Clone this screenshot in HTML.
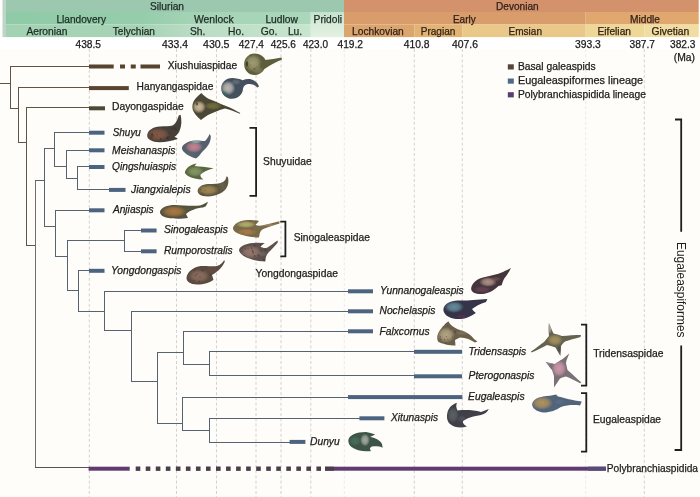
<!DOCTYPE html>
<html><head><meta charset="utf-8"><style>
html,body{margin:0;padding:0;background:#fdfcf9;}
svg{display:block;filter:blur(0.3px);font-family:"Liberation Sans", sans-serif;}
</style></head><body>
<svg width="700" height="497" viewBox="0 0 700 497">
<rect x="0" y="0" width="700" height="497" fill="#fefdf9"/>
<g><defs><linearGradient id="sr2" x1="0" x2="1" y1="0" y2="0"><stop offset="0" stop-color="#8fcaa7"/><stop offset="0.45" stop-color="#95cdab"/><stop offset="0.6" stop-color="#a3d3b4"/><stop offset="1" stop-color="#abd7bb"/></linearGradient><linearGradient id="sr3" x1="0" x2="1" y1="0" y2="0"><stop offset="0" stop-color="#a3d2b3"/><stop offset="0.45" stop-color="#a6d3b5"/><stop offset="0.6" stop-color="#b8dcc3"/><stop offset="1" stop-color="#c8e5ce"/></linearGradient></defs><rect x="2.5" y="0" width="3.5" height="37.3" fill="#bdd5c7"/><rect x="6" y="0" width="338" height="12" fill="#9bc8af"/><rect x="6" y="12" width="304.8" height="12.5" fill="url(#sr2)"/><rect x="6" y="24.5" width="304.8" height="12.799999999999997" fill="url(#sr3)"/><defs><linearGradient id="prd" x1="0" x2="0" y1="0" y2="1"><stop offset="0" stop-color="#c4e2cc"/><stop offset="0.5" stop-color="#d8ecda"/><stop offset="1" stop-color="#e2f1e3"/></linearGradient></defs><rect x="310.8" y="12" width="33.19999999999999" height="25.299999999999997" fill="url(#prd)"/><rect x="344" y="0" width="354.70000000000005" height="12" fill="#d4926c"/><rect x="344" y="12" width="241.70000000000005" height="12.5" fill="#d99c6b"/><rect x="585.7" y="12" width="113.0" height="12.5" fill="#e0a86f"/><rect x="344" y="24.5" width="70.30000000000001" height="12.799999999999997" fill="#dca56e"/><rect x="414.3" y="24.5" width="48.0" height="12.799999999999997" fill="#e3b373"/><rect x="462.3" y="24.5" width="123.40000000000003" height="12.799999999999997" fill="#e9c88a"/><rect x="585.7" y="24.5" width="58.59999999999991" height="12.799999999999997" fill="#efd798"/><rect x="644.3" y="24.5" width="54.40000000000009" height="12.799999999999997" fill="#f1dda2"/><rect x="0" y="37.3" width="700" height="11.700000000000003" fill="#ffffff"/></g>
<g><text x="150" y="9.9" font-size="10.3" textLength="34" lengthAdjust="spacingAndGlyphs" fill="#1f2a24" stroke="#1f2a24" stroke-width="0.25">Silurian</text><text x="496" y="9.9" font-size="10.3" textLength="42.6" lengthAdjust="spacingAndGlyphs" fill="#30221a" stroke="#30221a" stroke-width="0.25">Devonian</text><text x="56.4" y="22.6" font-size="10.3" textLength="49.6" lengthAdjust="spacingAndGlyphs" fill="#1f2a24" stroke="#1f2a24" stroke-width="0.25">Llandovery</text><text x="194" y="22.6" font-size="10.3" textLength="39.6" lengthAdjust="spacingAndGlyphs" fill="#1f2a24" stroke="#1f2a24" stroke-width="0.25">Wenlock</text><text x="265.4" y="22.6" font-size="10.3" textLength="32.5" lengthAdjust="spacingAndGlyphs" fill="#1f2a24" stroke="#1f2a24" stroke-width="0.25">Ludlow</text><text x="313.6" y="22.6" font-size="10.3" textLength="28.4" lengthAdjust="spacingAndGlyphs" fill="#1f2a24" stroke="#1f2a24" stroke-width="0.25">Pridoli</text><text x="452.9" y="22.6" font-size="10.3" textLength="22.8" lengthAdjust="spacingAndGlyphs" fill="#30221a" stroke="#30221a" stroke-width="0.25">Early</text><text x="630" y="22.6" font-size="10.3" textLength="30" lengthAdjust="spacingAndGlyphs" fill="#30221a" stroke="#30221a" stroke-width="0.25">Middle</text><text x="26.4" y="34.8" font-size="10.3" textLength="41.1" lengthAdjust="spacingAndGlyphs" fill="#1f2a24" stroke="#1f2a24" stroke-width="0.25">Aeronian</text><text x="112.8" y="34.8" font-size="10.3" textLength="42.2" lengthAdjust="spacingAndGlyphs" fill="#1f2a24" stroke="#1f2a24" stroke-width="0.25">Telychian</text><text x="190" y="34.8" font-size="10.3" fill="#1f2a24" stroke="#1f2a24" stroke-width="0.25">Sh.</text><text x="228" y="34.8" font-size="10.3" fill="#1f2a24" stroke="#1f2a24" stroke-width="0.25">Ho.</text><text x="260.7" y="34.8" font-size="10.3" fill="#1f2a24" stroke="#1f2a24" stroke-width="0.25">Go.</text><text x="287.9" y="34.8" font-size="10.3" fill="#1f2a24" stroke="#1f2a24" stroke-width="0.25">Lu.</text><text x="352" y="34.8" font-size="10.3" textLength="51.8" lengthAdjust="spacingAndGlyphs" fill="#30221a" stroke="#30221a" stroke-width="0.25">Lochkovian</text><text x="420.7" y="34.8" font-size="10.3" textLength="34.7" lengthAdjust="spacingAndGlyphs" fill="#30221a" stroke="#30221a" stroke-width="0.25">Pragian</text><text x="508.6" y="34.8" font-size="10.3" textLength="33.4" lengthAdjust="spacingAndGlyphs" fill="#30221a" stroke="#30221a" stroke-width="0.25">Emsian</text><text x="597.5" y="34.8" font-size="10.3" textLength="33.5" lengthAdjust="spacingAndGlyphs" fill="#30221a" stroke="#30221a" stroke-width="0.25">Eifelian</text><text x="651.4" y="34.8" font-size="10.3" textLength="37.9" lengthAdjust="spacingAndGlyphs" fill="#30221a" stroke="#30221a" stroke-width="0.25">Givetian</text></g>
<g><text x="75.5" y="47.6" font-size="10.3" textLength="25.5" lengthAdjust="spacingAndGlyphs" fill="#1a1a1a" stroke="#1a1a1a" stroke-width="0.25">438.5</text><text x="162" y="47.6" font-size="10.3" textLength="26" lengthAdjust="spacingAndGlyphs" fill="#1a1a1a" stroke="#1a1a1a" stroke-width="0.25">433.4</text><text x="203" y="47.6" font-size="10.3" textLength="26.5" lengthAdjust="spacingAndGlyphs" fill="#1a1a1a" stroke="#1a1a1a" stroke-width="0.25">430.5</text><text x="238.75" y="47.6" font-size="10.3" textLength="25.2" lengthAdjust="spacingAndGlyphs" fill="#1a1a1a" stroke="#1a1a1a" stroke-width="0.25">427.4</text><text x="270.75" y="47.6" font-size="10.3" textLength="25.2" lengthAdjust="spacingAndGlyphs" fill="#1a1a1a" stroke="#1a1a1a" stroke-width="0.25">425.6</text><text x="303" y="47.6" font-size="10.3" textLength="25" lengthAdjust="spacingAndGlyphs" fill="#1a1a1a" stroke="#1a1a1a" stroke-width="0.25">423.0</text><text x="337.5" y="47.6" font-size="10.3" textLength="25.5" lengthAdjust="spacingAndGlyphs" fill="#1a1a1a" stroke="#1a1a1a" stroke-width="0.25">419.2</text><text x="403.75" y="47.6" font-size="10.3" textLength="25.8" lengthAdjust="spacingAndGlyphs" fill="#1a1a1a" stroke="#1a1a1a" stroke-width="0.25">410.8</text><text x="452" y="47.6" font-size="10.3" textLength="26" lengthAdjust="spacingAndGlyphs" fill="#1a1a1a" stroke="#1a1a1a" stroke-width="0.25">407.6</text><text x="575" y="47.6" font-size="10.3" textLength="25.8" lengthAdjust="spacingAndGlyphs" fill="#1a1a1a" stroke="#1a1a1a" stroke-width="0.25">393.3</text><text x="629.5" y="47.6" font-size="10.3" textLength="25.5" lengthAdjust="spacingAndGlyphs" fill="#1a1a1a" stroke="#1a1a1a" stroke-width="0.25">387.7</text><text x="670" y="47.6" font-size="10.3" textLength="25.5" lengthAdjust="spacingAndGlyphs" fill="#1a1a1a" stroke="#1a1a1a" stroke-width="0.25">382.3</text><text x="673.75" y="61" font-size="10.3" textLength="21.3" lengthAdjust="spacingAndGlyphs" fill="#1a1a1a" stroke="#1a1a1a" stroke-width="0.25">(Ma)</text></g>
<g><line x1="89.3" y1="49" x2="89.3" y2="497" stroke="#d2d2d2" stroke-width="1" stroke-dasharray="3 2.2"/><line x1="176.5" y1="49" x2="176.5" y2="497" stroke="#d2d2d2" stroke-width="1" stroke-dasharray="3 2.2"/><line x1="216.5" y1="49" x2="216.5" y2="497" stroke="#d2d2d2" stroke-width="1" stroke-dasharray="3 2.2"/><line x1="256" y1="49" x2="256" y2="497" stroke="#d2d2d2" stroke-width="1" stroke-dasharray="3 2.2"/><line x1="281" y1="49" x2="281" y2="497" stroke="#d2d2d2" stroke-width="1" stroke-dasharray="3 2.2"/><line x1="310.8" y1="49" x2="310.8" y2="497" stroke="#d2d2d2" stroke-width="1" stroke-dasharray="3 2.2"/><line x1="414.3" y1="49" x2="414.3" y2="497" stroke="#d2d2d2" stroke-width="1" stroke-dasharray="3 2.2"/><line x1="462.3" y1="49" x2="462.3" y2="497" stroke="#d2d2d2" stroke-width="1" stroke-dasharray="3 2.2"/><line x1="644.3" y1="49" x2="644.3" y2="497" stroke="#d2d2d2" stroke-width="1" stroke-dasharray="3 2.2"/><line x1="344.3" y1="49" x2="344.3" y2="497" stroke="#ebebeb" stroke-width="1" stroke-dasharray="3 2.2"/><line x1="585.7" y1="49" x2="585.7" y2="497" stroke="#ebebeb" stroke-width="1" stroke-dasharray="3 2.2"/></g>
<g><line x1="0" y1="83.5" x2="11" y2="83.5" stroke="#625444" stroke-width="1.0"/><line x1="10.5" y1="66" x2="10.5" y2="109" stroke="#625444" stroke-width="1.0"/><line x1="10" y1="66.5" x2="90" y2="66.5" stroke="#625444" stroke-width="1.0"/><line x1="10" y1="108.5" x2="19" y2="108.5" stroke="#625444" stroke-width="1.0"/><line x1="18.5" y1="87" x2="18.5" y2="143" stroke="#625444" stroke-width="1.0"/><line x1="18" y1="87.5" x2="90" y2="87.5" stroke="#625444" stroke-width="1.0"/><line x1="18" y1="142.5" x2="27" y2="142.5" stroke="#625444" stroke-width="1.0"/><line x1="26.5" y1="107" x2="26.5" y2="246" stroke="#625444" stroke-width="1.0"/><line x1="26" y1="107.5" x2="90" y2="107.5" stroke="#625444" stroke-width="1.0"/><line x1="26" y1="245.5" x2="36" y2="245.5" stroke="#625444" stroke-width="1.0"/><line x1="35.5" y1="180" x2="35.5" y2="468" stroke="#6e6e6e" stroke-width="1.0"/><line x1="35" y1="180.5" x2="45" y2="180.5" stroke="#566270" stroke-width="1.0"/><line x1="35" y1="467.5" x2="90" y2="467.5" stroke="#555" stroke-width="1.0"/><line x1="44.5" y1="148" x2="44.5" y2="227" stroke="#566270" stroke-width="1.0"/><line x1="44" y1="148.5" x2="55" y2="148.5" stroke="#566270" stroke-width="1.0"/><line x1="44" y1="226.5" x2="56" y2="226.5" stroke="#566270" stroke-width="1.0"/><line x1="54.5" y1="132" x2="54.5" y2="167" stroke="#566270" stroke-width="1.0"/><line x1="54" y1="132.5" x2="90" y2="132.5" stroke="#566270" stroke-width="1.0"/><line x1="54" y1="166.5" x2="67" y2="166.5" stroke="#566270" stroke-width="1.0"/><line x1="66.5" y1="150" x2="66.5" y2="179" stroke="#566270" stroke-width="1.0"/><line x1="66" y1="150.5" x2="90" y2="150.5" stroke="#566270" stroke-width="1.0"/><line x1="66" y1="178.5" x2="78" y2="178.5" stroke="#566270" stroke-width="1.0"/><line x1="77.5" y1="166" x2="77.5" y2="190" stroke="#566270" stroke-width="1.0"/><line x1="77" y1="166.5" x2="90" y2="166.5" stroke="#566270" stroke-width="1.0"/><line x1="77" y1="189.5" x2="110" y2="189.5" stroke="#566270" stroke-width="1.0"/><line x1="55.5" y1="210" x2="55.5" y2="257" stroke="#566270" stroke-width="1.0"/><line x1="55" y1="210.5" x2="90" y2="210.5" stroke="#566270" stroke-width="1.0"/><line x1="55" y1="256.5" x2="68" y2="256.5" stroke="#566270" stroke-width="1.0"/><line x1="67.5" y1="240" x2="67.5" y2="291" stroke="#566270" stroke-width="1.0"/><line x1="67" y1="240.5" x2="125" y2="240.5" stroke="#566270" stroke-width="1.0"/><line x1="67" y1="290.5" x2="79" y2="290.5" stroke="#566270" stroke-width="1.0"/><line x1="124.5" y1="230" x2="124.5" y2="252" stroke="#566270" stroke-width="1.0"/><line x1="124" y1="230.5" x2="142" y2="230.5" stroke="#566270" stroke-width="1.0"/><line x1="124" y1="251.5" x2="142" y2="251.5" stroke="#566270" stroke-width="1.0"/><line x1="78.5" y1="270" x2="78.5" y2="312" stroke="#566270" stroke-width="1.0"/><line x1="78" y1="270.5" x2="90" y2="270.5" stroke="#566270" stroke-width="1.0"/><line x1="78" y1="311.5" x2="105" y2="311.5" stroke="#566270" stroke-width="1.0"/><line x1="104.5" y1="291" x2="104.5" y2="331" stroke="#566270" stroke-width="1.0"/><line x1="104" y1="291.5" x2="349" y2="291.5" stroke="#566270" stroke-width="1.0"/><line x1="104" y1="330.5" x2="132" y2="330.5" stroke="#566270" stroke-width="1.0"/><line x1="131.5" y1="311" x2="131.5" y2="382" stroke="#566270" stroke-width="1.0"/><line x1="131" y1="311.5" x2="349" y2="311.5" stroke="#566270" stroke-width="1.0"/><line x1="131" y1="381.5" x2="158" y2="381.5" stroke="#566270" stroke-width="1.0"/><line x1="157.5" y1="352" x2="157.5" y2="424" stroke="#566270" stroke-width="1.0"/><line x1="157" y1="352.5" x2="184" y2="352.5" stroke="#566270" stroke-width="1.0"/><line x1="157" y1="423.5" x2="183" y2="423.5" stroke="#566270" stroke-width="1.0"/><line x1="183.5" y1="331" x2="183.5" y2="365" stroke="#566270" stroke-width="1.0"/><line x1="183" y1="331.5" x2="349" y2="331.5" stroke="#566270" stroke-width="1.0"/><line x1="183" y1="364.5" x2="210" y2="364.5" stroke="#566270" stroke-width="1.0"/><line x1="209.5" y1="351" x2="209.5" y2="376" stroke="#566270" stroke-width="1.0"/><line x1="209" y1="351.5" x2="415" y2="351.5" stroke="#566270" stroke-width="1.0"/><line x1="209" y1="375.5" x2="415" y2="375.5" stroke="#566270" stroke-width="1.0"/><line x1="182.5" y1="397" x2="182.5" y2="431" stroke="#566270" stroke-width="1.0"/><line x1="182" y1="397.5" x2="349" y2="397.5" stroke="#566270" stroke-width="1.0"/><line x1="182" y1="430.5" x2="210" y2="430.5" stroke="#566270" stroke-width="1.0"/><line x1="209.5" y1="418" x2="209.5" y2="443" stroke="#566270" stroke-width="1.0"/><line x1="209" y1="418.5" x2="360" y2="418.5" stroke="#566270" stroke-width="1.0"/><line x1="209" y1="442.5" x2="290" y2="442.5" stroke="#566270" stroke-width="1.0"/></g>
<g><rect x="89" y="64.5" width="24.7" height="4" fill="#55442f"/><rect x="120" y="64.5" width="5" height="4" fill="#55442f"/><rect x="130.75" y="64.5" width="5.0" height="4" fill="#55442f"/><rect x="140.5" y="64.5" width="19.5" height="4" fill="#55442f"/><rect x="89" y="86.1" width="39.8" height="4" fill="#5a432f"/><rect x="89" y="106.3" width="16" height="4" fill="#4e4837"/><rect x="89" y="130.70000000000002" width="15.5" height="4" fill="#4c6480"/><rect x="89" y="148.3" width="15.5" height="4" fill="#4c6480"/><rect x="89" y="165.0" width="15.5" height="4" fill="#4c6480"/><rect x="89" y="208.3" width="15.5" height="4" fill="#4c6480"/><rect x="89" y="268.8" width="15.5" height="4" fill="#4c6480"/><rect x="109" y="187.9" width="16.5" height="4" fill="#4c6480"/><rect x="141" y="228.5" width="15.6" height="4" fill="#4c6480"/><rect x="141" y="249.3" width="15.6" height="4" fill="#4c6480"/><rect x="348" y="289.3" width="25" height="4" fill="#4c6480"/><rect x="348" y="309.3" width="25" height="4" fill="#4c6480"/><rect x="348" y="329.3" width="25" height="4" fill="#4c6480"/><rect x="414" y="349.8" width="48" height="4" fill="#4c6480"/><rect x="414" y="374.3" width="48" height="4" fill="#4c6480"/><rect x="348" y="395.1" width="114.4" height="4" fill="#4c6480"/><rect x="359.4" y="416.3" width="25.0" height="4" fill="#4c6480"/><rect x="289.6" y="439.90000000000003" width="15.8" height="4" fill="#4c6480"/><rect x="88.6" y="466.7" width="41.1" height="4" fill="#5f3b70"/><rect x="135.7" y="466.5" width="4.6" height="4.4" fill="#4b3d4b"/><rect x="145.74" y="466.5" width="4.6" height="4.4" fill="#4b3d4b"/><rect x="155.78" y="466.5" width="4.6" height="4.4" fill="#4b3d4b"/><rect x="165.82" y="466.5" width="4.6" height="4.4" fill="#4b3d4b"/><rect x="175.86" y="466.5" width="4.6" height="4.4" fill="#4b3d4b"/><rect x="185.9" y="466.5" width="4.6" height="4.4" fill="#4b3d4b"/><rect x="195.94" y="466.5" width="4.6" height="4.4" fill="#4b3d4b"/><rect x="205.98" y="466.5" width="4.6" height="4.4" fill="#4b3d4b"/><rect x="216.02" y="466.5" width="4.6" height="4.4" fill="#4b3d4b"/><rect x="226.06" y="466.5" width="4.6" height="4.4" fill="#4b3d4b"/><rect x="236.1" y="466.5" width="4.6" height="4.4" fill="#4b3d4b"/><rect x="246.14" y="466.5" width="4.6" height="4.4" fill="#4b3d4b"/><rect x="256.18" y="466.5" width="4.6" height="4.4" fill="#4b3d4b"/><rect x="266.22" y="466.5" width="4.6" height="4.4" fill="#4b3d4b"/><rect x="276.26" y="466.5" width="4.6" height="4.4" fill="#4b3d4b"/><rect x="286.3" y="466.5" width="4.6" height="4.4" fill="#4b3d4b"/><rect x="296.34" y="466.5" width="4.6" height="4.4" fill="#4b3d4b"/><rect x="306.38" y="466.5" width="4.6" height="4.4" fill="#4b3d4b"/><rect x="316.42" y="466.5" width="4.6" height="4.4" fill="#4b3d4b"/><rect x="325" y="466.7" width="281" height="4" fill="#5f3b70"/><rect x="325" y="466.7" width="9" height="4" fill="#4b3d4b"/><rect x="588" y="466.7" width="18" height="4" fill="#5a4a78"/></g>
<g><text x="167.8" y="68.6" font-size="10.3" textLength="69.4" lengthAdjust="spacingAndGlyphs" fill="#1c1c1c" stroke="#1c1c1c" stroke-width="0.25">Xiushuiaspidae</text><text x="136.6" y="90.1" font-size="10.3" textLength="76.8" lengthAdjust="spacingAndGlyphs" fill="#1c1c1c" stroke="#1c1c1c" stroke-width="0.25">Hanyangaspidae</text><text x="112" y="110.2" font-size="10.3" textLength="71.7" lengthAdjust="spacingAndGlyphs" fill="#1c1c1c" stroke="#1c1c1c" stroke-width="0.25">Dayongaspidae</text><text x="112.7" y="136" font-size="10.3" font-style="italic" textLength="28.2" lengthAdjust="spacingAndGlyphs" fill="#1c1c1c" stroke="#1c1c1c" stroke-width="0.25">Shuyu</text><text x="112" y="153.5" font-size="10.3" font-style="italic" textLength="63.4" lengthAdjust="spacingAndGlyphs" fill="#1c1c1c" stroke="#1c1c1c" stroke-width="0.25">Meishanaspis</text><text x="112" y="169.8" font-size="10.3" font-style="italic" textLength="64.1" lengthAdjust="spacingAndGlyphs" fill="#1c1c1c" stroke="#1c1c1c" stroke-width="0.25">Qingshuiaspis</text><text x="131" y="192.9" font-size="10.3" font-style="italic" textLength="59.6" lengthAdjust="spacingAndGlyphs" fill="#1c1c1c" stroke="#1c1c1c" stroke-width="0.25">Jiangxialepis</text><text x="112.9" y="213" font-size="10.3" font-style="italic" textLength="40.8" lengthAdjust="spacingAndGlyphs" fill="#1c1c1c" stroke="#1c1c1c" stroke-width="0.25">Anjiaspis</text><text x="163.9" y="233.4" font-size="10.3" font-style="italic" textLength="63.9" lengthAdjust="spacingAndGlyphs" fill="#1c1c1c" stroke="#1c1c1c" stroke-width="0.25">Sinogaleaspis</text><text x="164" y="254.2" font-size="10.3" font-style="italic" textLength="68.6" lengthAdjust="spacingAndGlyphs" fill="#1c1c1c" stroke="#1c1c1c" stroke-width="0.25">Rumporostralis</text><text x="111" y="273.9" font-size="10.3" font-style="italic" textLength="70.4" lengthAdjust="spacingAndGlyphs" fill="#1c1c1c" stroke="#1c1c1c" stroke-width="0.25">Yongdongaspis</text><text x="380.1" y="293.5" font-size="10.3" font-style="italic" textLength="83.6" lengthAdjust="spacingAndGlyphs" fill="#1c1c1c" stroke="#1c1c1c" stroke-width="0.25">Yunnanogaleaspis</text><text x="379.5" y="313.7" font-size="10.3" font-style="italic" textLength="55.9" lengthAdjust="spacingAndGlyphs" fill="#1c1c1c" stroke="#1c1c1c" stroke-width="0.25">Nochelaspis</text><text x="379.5" y="334.6" font-size="10.3" font-style="italic" textLength="50.1" lengthAdjust="spacingAndGlyphs" fill="#1c1c1c" stroke="#1c1c1c" stroke-width="0.25">Falxcornus</text><text x="468.6" y="354.6" font-size="10.3" font-style="italic" textLength="57.6" lengthAdjust="spacingAndGlyphs" fill="#1c1c1c" stroke="#1c1c1c" stroke-width="0.25">Tridensaspis</text><text x="468.6" y="379" font-size="10.3" font-style="italic" textLength="65.8" lengthAdjust="spacingAndGlyphs" fill="#1c1c1c" stroke="#1c1c1c" stroke-width="0.25">Pterogonaspis</text><text x="468.1" y="399.5" font-size="10.3" font-style="italic" textLength="56.5" lengthAdjust="spacingAndGlyphs" fill="#1c1c1c" stroke="#1c1c1c" stroke-width="0.25">Eugaleaspis</text><text x="391" y="420.8" font-size="10.3" font-style="italic" textLength="47" lengthAdjust="spacingAndGlyphs" fill="#1c1c1c" stroke="#1c1c1c" stroke-width="0.25">Xitunaspis</text><text x="310" y="444.6" font-size="10.3" font-style="italic" textLength="29.7" lengthAdjust="spacingAndGlyphs" fill="#1c1c1c" stroke="#1c1c1c" stroke-width="0.25">Dunyu</text><text x="606.8" y="472" font-size="10.3" textLength="91.2" lengthAdjust="spacingAndGlyphs" fill="#1c1c1c" stroke="#1c1c1c" stroke-width="0.25">Polybranchiaspidida</text><text x="263.1" y="164.9" font-size="10.3" textLength="48.5" lengthAdjust="spacingAndGlyphs" fill="#1c1c1c" stroke="#1c1c1c" stroke-width="0.25">Shuyuidae</text><text x="293.7" y="241" font-size="10.3" textLength="76.3" lengthAdjust="spacingAndGlyphs" fill="#1c1c1c" stroke="#1c1c1c" stroke-width="0.25">Sinogaleaspidae</text><text x="255.6" y="276.5" font-size="10.3" textLength="82.3" lengthAdjust="spacingAndGlyphs" fill="#1c1c1c" stroke="#1c1c1c" stroke-width="0.25">Yongdongaspidae</text><text x="593.2" y="357" font-size="10.3" textLength="70.2" lengthAdjust="spacingAndGlyphs" fill="#1c1c1c" stroke="#1c1c1c" stroke-width="0.25">Tridensaspidae</text><text x="593" y="423" font-size="10.3" textLength="68.1" lengthAdjust="spacingAndGlyphs" fill="#1c1c1c" stroke="#1c1c1c" stroke-width="0.25">Eugaleaspidae</text></g>
<g><path d="M249.5 127.8 H256.1 V195.8 H249.5" fill="none" stroke="#1e1e1e" stroke-width="1.8"/><path d="M280.3 221.6 H285.4 V256.4 H280.3" fill="none" stroke="#1e1e1e" stroke-width="1.8"/><path d="M581 324.6 H586.3 V385.7 H581" fill="none" stroke="#1e1e1e" stroke-width="1.8"/><path d="M581 393.2 H586.3 V451.7 H581" fill="none" stroke="#1e1e1e" stroke-width="1.8"/><path d="M675 119.5 H681.2 V231.8" fill="none" stroke="#1e1e1e" stroke-width="1.8"/><path d="M681.2 345.6 V450 H674.6" fill="none" stroke="#1e1e1e" stroke-width="1.8"/><text transform="translate(676.5,242) rotate(90)" font-size="11.9" textLength="95.5" lengthAdjust="spacingAndGlyphs" fill="#1c1c1c">Eugaleaspiformes</text></g>
<g><rect x="507.8" y="64.30000000000001" width="6" height="5.2" fill="#54473a"/><text x="517.9" y="70.10000000000001" font-size="10.3" textLength="77.8" lengthAdjust="spacingAndGlyphs" fill="#1c1c1c" stroke="#1c1c1c" stroke-width="0.25">Basal galeaspids</text><rect x="507.8" y="78.5" width="6" height="5.2" fill="#4e6a8a"/><text x="517.9" y="84.3" font-size="10.3" textLength="125.2" lengthAdjust="spacingAndGlyphs" fill="#1c1c1c" stroke="#1c1c1c" stroke-width="0.25">Eugaleaspiformes lineage</text><rect x="507.8" y="92.2" width="6" height="5.2" fill="#5a3f6e"/><text x="517.9" y="98.0" font-size="10.3" textLength="128" lengthAdjust="spacingAndGlyphs" fill="#1c1c1c" stroke="#1c1c1c" stroke-width="0.25">Polybranchiaspidida lineage</text></g>
<g><defs><clipPath id="fc0"><path d="M254.5 53.5 C260 53.5 264 56.5 265.5 60 C270 59.5 276 58.5 281.5 57.5 L282 59.5 C276 62 270 65 264.5 69 C262 73 258.5 75 254.5 75 C248.5 75 244.2 70 244.2 64.2 C244.2 58.5 248.5 53.5 254.5 53.5 Z"/></clipPath><radialGradient id="fh0_0"><stop offset="0" stop-color="#a6a278" stop-opacity="0.9"/><stop offset="0.55" stop-color="#a6a278" stop-opacity="0.68"/><stop offset="1" stop-color="#a6a278" stop-opacity="0"/></radialGradient><radialGradient id="fh0_1"><stop offset="0" stop-color="#8a8a60" stop-opacity="0.6"/><stop offset="0.55" stop-color="#8a8a60" stop-opacity="0.45"/><stop offset="1" stop-color="#8a8a60" stop-opacity="0"/></radialGradient><radialGradient id="fh0_2"><stop offset="0" stop-color="#252515" stop-opacity="0.8"/><stop offset="0.55" stop-color="#252515" stop-opacity="0.60"/><stop offset="1" stop-color="#252515" stop-opacity="0"/></radialGradient><clipPath id="fc1"><path d="M232.1 78 C236 78 240 79 242.5 80.2 C246.5 78.5 251 78.3 254 80.5 C256.5 82 258.5 84.5 259 86.5 L257.5 87.5 C255 85 251.5 83.5 248 84 C245.5 84.5 243.5 86 243 88.5 C243 94 238 98.8 232.1 98.8 C226 98.8 221.2 94 221.2 88.4 C221.2 82.6 226 78 232.1 78 Z"/></clipPath><radialGradient id="fh1_0"><stop offset="0" stop-color="#c2beb6" stop-opacity="0.95"/><stop offset="0.55" stop-color="#c2beb6" stop-opacity="0.71"/><stop offset="1" stop-color="#c2beb6" stop-opacity="0"/></radialGradient><radialGradient id="fh1_1"><stop offset="0" stop-color="#2a6656" stop-opacity="0.6"/><stop offset="0.55" stop-color="#2a6656" stop-opacity="0.45"/><stop offset="1" stop-color="#2a6656" stop-opacity="0"/></radialGradient><radialGradient id="fh1_2"><stop offset="0" stop-color="#7a8890" stop-opacity="0.5"/><stop offset="0.55" stop-color="#7a8890" stop-opacity="0.38"/><stop offset="1" stop-color="#7a8890" stop-opacity="0"/></radialGradient><clipPath id="fc2"><path d="M201.4 93.1 C203.5 95.5 206 97.5 209 99 C214 101 220 103.5 226 106 C231 108 236 110.5 240.3 113 L239.8 113.8 C235 111.5 230 109.5 225 108.5 C219 110 213 112.5 208 115 C205.5 116.5 203 118.5 201 120 C197.5 117 194 113.5 192.8 110 C191.8 106 192.5 102 195.5 98.5 C197.5 96.5 199.5 94.8 201.4 93.1 Z"/></clipPath><radialGradient id="fh2_0"><stop offset="0" stop-color="#d6c0a0" stop-opacity="0.95"/><stop offset="0.55" stop-color="#d6c0a0" stop-opacity="0.71"/><stop offset="1" stop-color="#d6c0a0" stop-opacity="0"/></radialGradient><radialGradient id="fh2_1"><stop offset="0" stop-color="#847a40" stop-opacity="0.75"/><stop offset="0.55" stop-color="#847a40" stop-opacity="0.56"/><stop offset="1" stop-color="#847a40" stop-opacity="0"/></radialGradient><radialGradient id="fh2_2"><stop offset="0" stop-color="#201810" stop-opacity="0.7"/><stop offset="0.55" stop-color="#201810" stop-opacity="0.52"/><stop offset="1" stop-color="#201810" stop-opacity="0"/></radialGradient><clipPath id="fc3"><path d="M147.2 135.5 C147.8 130 153 127 160 126.5 C165 126.2 169.5 126.5 172.5 125.5 C175 124.5 177 121 178.8 115.5 L180.6 114.8 C181.8 120 181.8 126 179.5 131 C178.5 133.5 176.5 135.5 174.5 136.8 L177.8 138.8 C172 141 166 142.3 159.5 142.3 C152 142 147.2 139.5 147.2 135.5 Z"/></clipPath><radialGradient id="fh3_0"><stop offset="0" stop-color="#8a5a46" stop-opacity="0.95"/><stop offset="0.55" stop-color="#8a5a46" stop-opacity="0.71"/><stop offset="1" stop-color="#8a5a46" stop-opacity="0"/></radialGradient><radialGradient id="fh3_1"><stop offset="0" stop-color="#5a3428" stop-opacity="0.6"/><stop offset="0.55" stop-color="#5a3428" stop-opacity="0.45"/><stop offset="1" stop-color="#5a3428" stop-opacity="0"/></radialGradient><clipPath id="fc4"><path d="M181.9 147.7 C183 144 188 141 195 140.5 C200 140 203 141.5 205 141 C207 139 208.5 136.5 209.5 133.9 L210.8 136 C211 140 209.5 144 206.5 147.5 C204 150 201 153 199 156 L196 158.5 C192 157.5 187 155 184 152 C182.5 150.5 181.9 149 181.9 147.7 Z"/></clipPath><radialGradient id="fh4_0"><stop offset="0" stop-color="#cc8494" stop-opacity="0.95"/><stop offset="0.55" stop-color="#cc8494" stop-opacity="0.71"/><stop offset="1" stop-color="#cc8494" stop-opacity="0"/></radialGradient><radialGradient id="fh4_1"><stop offset="0" stop-color="#88b8b4" stop-opacity="0.85"/><stop offset="0.55" stop-color="#88b8b4" stop-opacity="0.64"/><stop offset="1" stop-color="#88b8b4" stop-opacity="0"/></radialGradient><radialGradient id="fh4_2"><stop offset="0" stop-color="#5a6a78" stop-opacity="0.5"/><stop offset="0.55" stop-color="#5a6a78" stop-opacity="0.38"/><stop offset="1" stop-color="#5a6a78" stop-opacity="0"/></radialGradient><clipPath id="fc5"><path d="M196.6 163.4 L194.5 166 C199 166.5 206 167 213.7 168.3 C208 170 203 172 200.5 174.5 C200 176 201 178 203.4 179.4 C198 179.5 192 178.5 188 176 C185.5 174.5 184.9 173 184.9 172.3 C186 168 190 164.5 196.6 163.4 Z"/></clipPath><radialGradient id="fh5_0"><stop offset="0" stop-color="#8a9a68" stop-opacity="0.9"/><stop offset="0.55" stop-color="#8a9a68" stop-opacity="0.68"/><stop offset="1" stop-color="#8a9a68" stop-opacity="0"/></radialGradient><radialGradient id="fh5_1"><stop offset="0" stop-color="#5a6840" stop-opacity="0.6"/><stop offset="0.55" stop-color="#5a6840" stop-opacity="0.45"/><stop offset="1" stop-color="#5a6840" stop-opacity="0"/></radialGradient><clipPath id="fc6"><path d="M197.6 190.9 C198 187 202 184.5 208 184 C214 184 219 184 223 182 C225.5 180.5 226.2 178 226.5 176.3 L227.8 177 C229 181 228.5 186 225 190 C223 192 221 193 219 194 C214 196.5 208 196.8 203 196 C199.5 195 197.6 193 197.6 190.9 Z"/></clipPath><radialGradient id="fh6_0"><stop offset="0" stop-color="#aa8c54" stop-opacity="0.9"/><stop offset="0.55" stop-color="#aa8c54" stop-opacity="0.68"/><stop offset="1" stop-color="#aa8c54" stop-opacity="0"/></radialGradient><radialGradient id="fh6_1"><stop offset="0" stop-color="#6a6a58" stop-opacity="0.6"/><stop offset="0.55" stop-color="#6a6a58" stop-opacity="0.45"/><stop offset="1" stop-color="#6a6a58" stop-opacity="0"/></radialGradient><clipPath id="fc7"><path d="M159.9 211.9 C161 207.5 167 205 175 205 C183 205.5 193 206 200 205.5 C203 204.5 205.5 203 208 201.7 C207.5 203.5 206.5 205 205.5 206.5 L203 207.5 C196 208 190 210.5 186 214 L188 218 C182 219 172 219 166 217.5 C162 216.5 159.9 214 159.9 211.9 Z"/></clipPath><radialGradient id="fh7_0"><stop offset="0" stop-color="#b07a40" stop-opacity="0.95"/><stop offset="0.55" stop-color="#b07a40" stop-opacity="0.71"/><stop offset="1" stop-color="#b07a40" stop-opacity="0"/></radialGradient><radialGradient id="fh7_1"><stop offset="0" stop-color="#5a5a40" stop-opacity="0.5"/><stop offset="0.55" stop-color="#5a5a40" stop-opacity="0.38"/><stop offset="1" stop-color="#5a5a40" stop-opacity="0"/></radialGradient><clipPath id="fc8"><path d="M232.9 228 C234 223.5 240 220.5 248 220 C252 219.8 256 220 259 221 L255.5 225 C258 226 261 226 264 225 C269 224 274 222.5 279.3 221.3 L279.5 223.5 C274 225 269 227 264.5 228.5 C262 229.5 260.5 231 260 232.5 L258.9 237.4 C252 237.5 244 236 238 233.5 C234.5 232 232.9 230 232.9 228 Z"/></clipPath><radialGradient id="fh8_0"><stop offset="0" stop-color="#b4b670" stop-opacity="0.9"/><stop offset="0.55" stop-color="#b4b670" stop-opacity="0.68"/><stop offset="1" stop-color="#b4b670" stop-opacity="0"/></radialGradient><radialGradient id="fh8_1"><stop offset="0" stop-color="#b07c48" stop-opacity="0.85"/><stop offset="0.55" stop-color="#b07c48" stop-opacity="0.64"/><stop offset="1" stop-color="#b07c48" stop-opacity="0"/></radialGradient><radialGradient id="fh8_2"><stop offset="0" stop-color="#b89878" stop-opacity="0.6"/><stop offset="0.55" stop-color="#b89878" stop-opacity="0.45"/><stop offset="1" stop-color="#b89878" stop-opacity="0"/></radialGradient><clipPath id="fc9"><path d="M239 249.9 C240 245.5 248 243 256 242.8 L264.7 243.1 L260.5 246.5 C262.5 248 265 248.5 267.5 247.5 C271 245.5 274.5 242.5 277.6 240.6 L277.8 242.5 C275 245.5 272 249.5 268.5 252.5 C266.5 254.5 265.5 257.5 265.4 261.4 C257 261.5 248 259 243 255.5 C240.5 253.5 239 251.5 239 249.9 Z"/></clipPath><radialGradient id="fh9_0"><stop offset="0" stop-color="#9c7c70" stop-opacity="0.9"/><stop offset="0.55" stop-color="#9c7c70" stop-opacity="0.68"/><stop offset="1" stop-color="#9c7c70" stop-opacity="0"/></radialGradient><radialGradient id="fh9_1"><stop offset="0" stop-color="#7a7070" stop-opacity="0.6"/><stop offset="0.55" stop-color="#7a7070" stop-opacity="0.45"/><stop offset="1" stop-color="#7a7070" stop-opacity="0"/></radialGradient><clipPath id="fc10"><path d="M186.5 278 C187 272 193 267 201 266 C207 265.5 213 267 217 266 C220.5 265 223 262.5 224.2 260.1 L224.8 261.5 C223 266 219 271 212 275 L213.5 279.7 C210 282.5 204 284.5 197 284.5 C190 284.3 186.5 281.5 186.5 278 Z"/></clipPath><radialGradient id="fh10_0"><stop offset="0" stop-color="#927262" stop-opacity="0.9"/><stop offset="0.55" stop-color="#927262" stop-opacity="0.68"/><stop offset="1" stop-color="#927262" stop-opacity="0"/></radialGradient><radialGradient id="fh10_1"><stop offset="0" stop-color="#6a5040" stop-opacity="0.6"/><stop offset="0.55" stop-color="#6a5040" stop-opacity="0.45"/><stop offset="1" stop-color="#6a5040" stop-opacity="0"/></radialGradient><clipPath id="fc11"><path d="M471.1 289 C471.5 283.5 476 279.5 483 277.5 C490 275.5 497 274.5 503 272 C506 270.5 508.5 269.5 510.9 268.1 C509.5 271.5 507.5 274.5 505 277.5 C503.5 279.5 502.5 282 501.7 285.3 L498.5 286 C495 289.5 490 293 483 294 C476 294.5 471.5 292.5 471.1 289 Z"/></clipPath><radialGradient id="fh11_0"><stop offset="0" stop-color="#b89c90" stop-opacity="0.9"/><stop offset="0.55" stop-color="#b89c90" stop-opacity="0.68"/><stop offset="1" stop-color="#b89c90" stop-opacity="0"/></radialGradient><radialGradient id="fh11_1"><stop offset="0" stop-color="#74485e" stop-opacity="0.7"/><stop offset="0.55" stop-color="#74485e" stop-opacity="0.52"/><stop offset="1" stop-color="#74485e" stop-opacity="0"/></radialGradient><radialGradient id="fh11_2"><stop offset="0" stop-color="#7a5a44" stop-opacity="0.7"/><stop offset="0.55" stop-color="#7a5a44" stop-opacity="0.52"/><stop offset="1" stop-color="#7a5a44" stop-opacity="0"/></radialGradient><clipPath id="fc12"><path d="M443.4 309.4 C444 304 450 300.5 458 300.5 C466 301 476 299.5 487.4 299 L486 302 C480 304 475 306.5 472 309 C473 310.5 474.5 312 475.8 312.9 C470 317 464 319.5 456 319 C448 318 443.4 314 443.4 309.4 Z"/></clipPath><radialGradient id="fh12_0"><stop offset="0" stop-color="#6898a6" stop-opacity="0.9"/><stop offset="0.55" stop-color="#6898a6" stop-opacity="0.68"/><stop offset="1" stop-color="#6898a6" stop-opacity="0"/></radialGradient><radialGradient id="fh12_1"><stop offset="0" stop-color="#6a2a52" stop-opacity="0.7"/><stop offset="0.55" stop-color="#6a2a52" stop-opacity="0.52"/><stop offset="1" stop-color="#6a2a52" stop-opacity="0"/></radialGradient><clipPath id="fc13"><path d="M448.4 321.3 C450 325 454 328 460 330 C466 331.5 471 335 474 339 L477.4 341.6 L475 342.5 C471 340 466 337.5 460 337.5 L455 340 L455.5 345.5 C449 345.5 442 344 438 341.5 C436.5 338 437 334 440 330 C443 326 446 323 448.4 321.3 Z"/></clipPath><radialGradient id="fh13_0"><stop offset="0" stop-color="#bcac8c" stop-opacity="0.9"/><stop offset="0.55" stop-color="#bcac8c" stop-opacity="0.68"/><stop offset="1" stop-color="#bcac8c" stop-opacity="0"/></radialGradient><radialGradient id="fh13_1"><stop offset="0" stop-color="#8a7a60" stop-opacity="0.6"/><stop offset="0.55" stop-color="#8a7a60" stop-opacity="0.45"/><stop offset="1" stop-color="#8a7a60" stop-opacity="0"/></radialGradient><clipPath id="fc14"><path d="M548.9 323 C550.5 327 552 330 553.5 333.5 C556 334 559 335 562 336 C568 335.5 575 335 581 335 L580.5 337 C575 338.5 569 340 565 341.5 C563 343 561.5 345 561 346.5 C561 349.5 560.8 353 560.4 356 C558.5 353 557 350 555.5 347.5 C552.5 346.5 549.5 345.5 547 345 C542 347.5 536.5 350.5 531.3 352.6 L531 351.5 C535.5 348.5 540 345 544 342 C545.5 340 547.5 338 549 336 C548.5 332 548.5 327 548.9 323 Z"/></clipPath><radialGradient id="fh14_0"><stop offset="0" stop-color="#a8945e" stop-opacity="0.95"/><stop offset="0.55" stop-color="#a8945e" stop-opacity="0.71"/><stop offset="1" stop-color="#a8945e" stop-opacity="0"/></radialGradient><radialGradient id="fh14_1"><stop offset="0" stop-color="#c0b8b0" stop-opacity="0.8"/><stop offset="0.55" stop-color="#c0b8b0" stop-opacity="0.60"/><stop offset="1" stop-color="#c0b8b0" stop-opacity="0"/></radialGradient><radialGradient id="fh14_2"><stop offset="0" stop-color="#384848" stop-opacity="0.7"/><stop offset="0.55" stop-color="#384848" stop-opacity="0.52"/><stop offset="1" stop-color="#384848" stop-opacity="0"/></radialGradient><clipPath id="fc15"><path d="M545.5 361.7 C548.5 362.5 552 363.5 555 364 C557.5 362 560 360.5 562 359.5 C564.5 357.5 567 355.5 569.4 353.3 C568 356.5 566.5 360 566 363 C566.5 365.5 567 368 567.5 370 C572 374 577 378.5 581.4 382.5 L580 383.2 C575 380.5 570 378 566 376.5 C564 377 562 377.5 560 378.5 C558 381.5 556 384.5 554 387.4 C554 383.5 554 380 554 376 C553.5 374 552.5 372 552 370 C549.5 367 547.5 364.5 545.5 361.7 Z"/></clipPath><radialGradient id="fh15_0"><stop offset="0" stop-color="#d49aaa" stop-opacity="0.95"/><stop offset="0.55" stop-color="#d49aaa" stop-opacity="0.71"/><stop offset="1" stop-color="#d49aaa" stop-opacity="0"/></radialGradient><radialGradient id="fh15_1"><stop offset="0" stop-color="#9a9498" stop-opacity="0.7"/><stop offset="0.55" stop-color="#9a9498" stop-opacity="0.52"/><stop offset="1" stop-color="#9a9498" stop-opacity="0"/></radialGradient><clipPath id="fc16"><path d="M532.1 404.3 C533 399 540 396 550 395.8 L556.1 394.4 L558 396.5 C565 398 572 400.5 581.8 401.5 L580 405.5 C574 404.5 567 405 561 407 C556 410 551 412.5 543 412.5 C536 411.5 532.1 408 532.1 404.3 Z"/></clipPath><radialGradient id="fh16_0"><stop offset="0" stop-color="#b89458" stop-opacity="0.95"/><stop offset="0.55" stop-color="#b89458" stop-opacity="0.71"/><stop offset="1" stop-color="#b89458" stop-opacity="0"/></radialGradient><radialGradient id="fh16_1"><stop offset="0" stop-color="#5a7488" stop-opacity="0.6"/><stop offset="0.55" stop-color="#5a7488" stop-opacity="0.45"/><stop offset="1" stop-color="#5a7488" stop-opacity="0"/></radialGradient><clipPath id="fc17"><path d="M456.9 402.8 C456 405 456 408 457.5 410.5 C465 409.5 474 410 481 412 L488.8 409.1 C487.5 412 485 414 481 415 C474 416 467 418 463 421 C462.5 423 464 425 466.9 426.6 C461 428.5 454 427.5 450 424 C446.5 421 446 415 448.5 409.5 C450.5 406 453.5 403.8 456.9 402.8 Z"/></clipPath><radialGradient id="fh17_0"><stop offset="0" stop-color="#66706e" stop-opacity="0.7"/><stop offset="0.55" stop-color="#66706e" stop-opacity="0.52"/><stop offset="1" stop-color="#66706e" stop-opacity="0"/></radialGradient><radialGradient id="fh17_1"><stop offset="0" stop-color="#5a5a66" stop-opacity="0.6"/><stop offset="0.55" stop-color="#5a5a66" stop-opacity="0.45"/><stop offset="1" stop-color="#5a5a66" stop-opacity="0"/></radialGradient><clipPath id="fc18"><path d="M348.3 440.5 C349 435 356 432 366 432 C369 432.5 372 433.5 375.2 434.5 L370 437 C375 437.5 380 440 382 444 L382.7 447.7 C380 446.5 376 446 372 446.5 C369.5 447.5 369.5 449.5 371.3 451 C364 452 356 450.5 351.5 447 C349 445 348.3 442.5 348.3 440.5 Z"/></clipPath><radialGradient id="fh18_0"><stop offset="0" stop-color="#b0b4ac" stop-opacity="0.9"/><stop offset="0.55" stop-color="#b0b4ac" stop-opacity="0.68"/><stop offset="1" stop-color="#b0b4ac" stop-opacity="0"/></radialGradient><radialGradient id="fh18_1"><stop offset="0" stop-color="#4a8064" stop-opacity="0.6"/><stop offset="0.55" stop-color="#4a8064" stop-opacity="0.45"/><stop offset="1" stop-color="#4a8064" stop-opacity="0"/></radialGradient></defs><path d="M254.5 53.5 C260 53.5 264 56.5 265.5 60 C270 59.5 276 58.5 281.5 57.5 L282 59.5 C276 62 270 65 264.5 69 C262 73 258.5 75 254.5 75 C248.5 75 244.2 70 244.2 64.2 C244.2 58.5 248.5 53.5 254.5 53.5 Z" fill="#5e5e3c"/><g clip-path="url(#fc0)"><ellipse cx="253" cy="63" rx="9" ry="9" fill="url(#fh0_0)"/><ellipse cx="258" cy="70" rx="6" ry="4" fill="url(#fh0_1)"/><ellipse cx="247" cy="64" rx="1.8" ry="3.5" fill="url(#fh0_2)"/><circle cx="250.0" cy="65.3" r="0.68" fill="#4a4a2e" opacity="0.4"/><circle cx="256.3" cy="66.9" r="0.53" fill="#4a4a2e" opacity="0.4"/><circle cx="246.2" cy="70.9" r="0.63" fill="#4a4a2e" opacity="0.4"/><circle cx="250.0" cy="73.9" r="0.74" fill="#4a4a2e" opacity="0.4"/><circle cx="260.2" cy="64.1" r="0.82" fill="#4a4a2e" opacity="0.4"/><circle cx="248.6" cy="67.1" r="0.93" fill="#4a4a2e" opacity="0.4"/><circle cx="254.9" cy="69.1" r="0.84" fill="#4a4a2e" opacity="0.4"/><circle cx="247.1" cy="69.4" r="0.80" fill="#4a4a2e" opacity="0.4"/><circle cx="251.1" cy="55.6" r="0.93" fill="#4a4a2e" opacity="0.4"/><circle cx="254.0" cy="68.7" r="0.94" fill="#4a4a2e" opacity="0.4"/></g>
<path d="M232.1 78 C236 78 240 79 242.5 80.2 C246.5 78.5 251 78.3 254 80.5 C256.5 82 258.5 84.5 259 86.5 L257.5 87.5 C255 85 251.5 83.5 248 84 C245.5 84.5 243.5 86 243 88.5 C243 94 238 98.8 232.1 98.8 C226 98.8 221.2 94 221.2 88.4 C221.2 82.6 226 78 232.1 78 Z" fill="#44505e"/><g clip-path="url(#fc1)"><ellipse cx="228" cy="88" rx="7.5" ry="7.5" fill="url(#fh1_0)"/><ellipse cx="224" cy="94" rx="5" ry="3.5" fill="url(#fh1_1)"/><ellipse cx="236" cy="82" rx="5" ry="3" fill="url(#fh1_2)"/></g>
<path d="M201.4 93.1 C203.5 95.5 206 97.5 209 99 C214 101 220 103.5 226 106 C231 108 236 110.5 240.3 113 L239.8 113.8 C235 111.5 230 109.5 225 108.5 C219 110 213 112.5 208 115 C205.5 116.5 203 118.5 201 120 C197.5 117 194 113.5 192.8 110 C191.8 106 192.5 102 195.5 98.5 C197.5 96.5 199.5 94.8 201.4 93.1 Z" fill="#4a4834"/><g clip-path="url(#fc2)"><ellipse cx="199" cy="107" rx="7" ry="6.5" fill="url(#fh2_0)"/><ellipse cx="213" cy="106" rx="9" ry="4" fill="url(#fh2_1)"/><ellipse cx="197" cy="104" rx="1.5" ry="2" fill="url(#fh2_2)"/></g>
<path d="M147.2 135.5 C147.8 130 153 127 160 126.5 C165 126.2 169.5 126.5 172.5 125.5 C175 124.5 177 121 178.8 115.5 L180.6 114.8 C181.8 120 181.8 126 179.5 131 C178.5 133.5 176.5 135.5 174.5 136.8 L177.8 138.8 C172 141 166 142.3 159.5 142.3 C152 142 147.2 139.5 147.2 135.5 Z" fill="#46403a"/><g clip-path="url(#fc3)"><ellipse cx="158" cy="134.5" rx="12" ry="7" fill="url(#fh3_0)"/><ellipse cx="152" cy="136" rx="3" ry="3" fill="url(#fh3_1)"/><circle cx="168.2" cy="138.8" r="0.59" fill="#2e2420" opacity="0.55"/><circle cx="176.0" cy="129.7" r="0.84" fill="#2e2420" opacity="0.55"/><circle cx="151.5" cy="137.6" r="0.58" fill="#2e2420" opacity="0.55"/><circle cx="168.1" cy="137.1" r="0.88" fill="#2e2420" opacity="0.55"/><circle cx="160.9" cy="139.1" r="0.99" fill="#2e2420" opacity="0.55"/><circle cx="152.1" cy="134.2" r="0.98" fill="#2e2420" opacity="0.55"/><circle cx="169.0" cy="133.2" r="0.65" fill="#2e2420" opacity="0.55"/><circle cx="174.7" cy="128.2" r="0.88" fill="#2e2420" opacity="0.55"/><circle cx="171.8" cy="129.2" r="0.66" fill="#2e2420" opacity="0.55"/><circle cx="157.2" cy="134.6" r="0.68" fill="#2e2420" opacity="0.55"/><circle cx="173.1" cy="139.9" r="0.66" fill="#2e2420" opacity="0.55"/><circle cx="173.2" cy="128.0" r="0.55" fill="#2e2420" opacity="0.55"/><circle cx="167.0" cy="138.2" r="0.91" fill="#2e2420" opacity="0.55"/><circle cx="175.8" cy="139.0" r="0.63" fill="#2e2420" opacity="0.55"/></g>
<path d="M181.9 147.7 C183 144 188 141 195 140.5 C200 140 203 141.5 205 141 C207 139 208.5 136.5 209.5 133.9 L210.8 136 C211 140 209.5 144 206.5 147.5 C204 150 201 153 199 156 L196 158.5 C192 157.5 187 155 184 152 C182.5 150.5 181.9 149 181.9 147.7 Z" fill="#56606c"/><g clip-path="url(#fc4)"><ellipse cx="194" cy="147" rx="9" ry="6" fill="url(#fh4_0)"/><ellipse cx="196" cy="141.5" rx="6" ry="2" fill="url(#fh4_1)"/><ellipse cx="190" cy="154" rx="5" ry="2.5" fill="url(#fh4_2)"/></g>
<path d="M196.6 163.4 L194.5 166 C199 166.5 206 167 213.7 168.3 C208 170 203 172 200.5 174.5 C200 176 201 178 203.4 179.4 C198 179.5 192 178.5 188 176 C185.5 174.5 184.9 173 184.9 172.3 C186 168 190 164.5 196.6 163.4 Z" fill="#56663e"/><g clip-path="url(#fc5)"><ellipse cx="195" cy="171.5" rx="9" ry="5.5" fill="url(#fh5_0)"/><ellipse cx="205" cy="168.5" rx="5" ry="1.5" fill="url(#fh5_1)"/></g>
<path d="M197.6 190.9 C198 187 202 184.5 208 184 C214 184 219 184 223 182 C225.5 180.5 226.2 178 226.5 176.3 L227.8 177 C229 181 228.5 186 225 190 C223 192 221 193 219 194 C214 196.5 208 196.8 203 196 C199.5 195 197.6 193 197.6 190.9 Z" fill="#5e5640"/><g clip-path="url(#fc6)"><ellipse cx="208" cy="190" rx="11" ry="5.5" fill="url(#fh6_0)"/><ellipse cx="222" cy="186" rx="4" ry="5" fill="url(#fh6_1)"/><circle cx="205.3" cy="190.4" r="0.54" fill="#4e4030" opacity="0.45"/><circle cx="206.8" cy="185.8" r="0.51" fill="#4e4030" opacity="0.45"/><circle cx="205.5" cy="186.3" r="0.66" fill="#4e4030" opacity="0.45"/><circle cx="216.1" cy="185.4" r="0.81" fill="#4e4030" opacity="0.45"/><circle cx="202.1" cy="193.7" r="0.87" fill="#4e4030" opacity="0.45"/><circle cx="203.9" cy="194.3" r="0.86" fill="#4e4030" opacity="0.45"/><circle cx="200.7" cy="189.5" r="0.85" fill="#4e4030" opacity="0.45"/><circle cx="220.2" cy="186.9" r="0.63" fill="#4e4030" opacity="0.45"/><circle cx="216.8" cy="195.6" r="0.55" fill="#4e4030" opacity="0.45"/><circle cx="201.1" cy="193.3" r="0.66" fill="#4e4030" opacity="0.45"/></g>
<path d="M159.9 211.9 C161 207.5 167 205 175 205 C183 205.5 193 206 200 205.5 C203 204.5 205.5 203 208 201.7 C207.5 203.5 206.5 205 205.5 206.5 L203 207.5 C196 208 190 210.5 186 214 L188 218 C182 219 172 219 166 217.5 C162 216.5 159.9 214 159.9 211.9 Z" fill="#54523e"/><g clip-path="url(#fc7)"><ellipse cx="174" cy="211.5" rx="13" ry="6" fill="url(#fh7_0)"/><ellipse cx="190" cy="209" rx="8" ry="2.5" fill="url(#fh7_1)"/></g>
<path d="M232.9 228 C234 223.5 240 220.5 248 220 C252 219.8 256 220 259 221 L255.5 225 C258 226 261 226 264 225 C269 224 274 222.5 279.3 221.3 L279.5 223.5 C274 225 269 227 264.5 228.5 C262 229.5 260.5 231 260 232.5 L258.9 237.4 C252 237.5 244 236 238 233.5 C234.5 232 232.9 230 232.9 228 Z" fill="#7a6a48"/><g clip-path="url(#fc8)"><ellipse cx="246" cy="224.5" rx="10" ry="3.5" fill="url(#fh8_0)"/><ellipse cx="247" cy="232" rx="10" ry="3.5" fill="url(#fh8_1)"/><ellipse cx="268" cy="225" rx="8" ry="1.5" fill="url(#fh8_2)"/><circle cx="240.2" cy="235.0" r="0.97" fill="#6a5a38" opacity="0.45"/><circle cx="235.5" cy="233.7" r="0.86" fill="#6a5a38" opacity="0.45"/><circle cx="250.6" cy="221.2" r="0.91" fill="#6a5a38" opacity="0.45"/><circle cx="243.7" cy="233.1" r="0.77" fill="#6a5a38" opacity="0.45"/><circle cx="252.5" cy="231.9" r="0.67" fill="#6a5a38" opacity="0.45"/><circle cx="250.4" cy="235.5" r="0.95" fill="#6a5a38" opacity="0.45"/><circle cx="255.9" cy="222.5" r="0.82" fill="#6a5a38" opacity="0.45"/><circle cx="254.5" cy="225.6" r="0.52" fill="#6a5a38" opacity="0.45"/><circle cx="252.2" cy="229.5" r="0.98" fill="#6a5a38" opacity="0.45"/><circle cx="240.8" cy="222.3" r="0.79" fill="#6a5a38" opacity="0.45"/></g>
<path d="M239 249.9 C240 245.5 248 243 256 242.8 L264.7 243.1 L260.5 246.5 C262.5 248 265 248.5 267.5 247.5 C271 245.5 274.5 242.5 277.6 240.6 L277.8 242.5 C275 245.5 272 249.5 268.5 252.5 C266.5 254.5 265.5 257.5 265.4 261.4 C257 261.5 248 259 243 255.5 C240.5 253.5 239 251.5 239 249.9 Z" fill="#5e504c"/><g clip-path="url(#fc9)"><ellipse cx="251" cy="252" rx="11" ry="7" fill="url(#fh9_0)"/><ellipse cx="262" cy="254" rx="5" ry="3" fill="url(#fh9_1)"/><circle cx="241.8" cy="251.0" r="0.62" fill="#3a2a28" opacity="0.5"/><circle cx="251.6" cy="248.1" r="0.93" fill="#3a2a28" opacity="0.5"/><circle cx="254.6" cy="255.9" r="0.96" fill="#3a2a28" opacity="0.5"/><circle cx="252.9" cy="251.5" r="0.56" fill="#3a2a28" opacity="0.5"/><circle cx="260.4" cy="245.1" r="0.68" fill="#3a2a28" opacity="0.5"/><circle cx="244.3" cy="255.7" r="0.73" fill="#3a2a28" opacity="0.5"/><circle cx="253.1" cy="252.5" r="0.92" fill="#3a2a28" opacity="0.5"/><circle cx="265.5" cy="249.9" r="0.94" fill="#3a2a28" opacity="0.5"/><circle cx="258.5" cy="255.2" r="0.99" fill="#3a2a28" opacity="0.5"/><circle cx="245.3" cy="249.1" r="0.74" fill="#3a2a28" opacity="0.5"/><circle cx="248.0" cy="248.7" r="0.60" fill="#3a2a28" opacity="0.5"/><circle cx="264.0" cy="259.5" r="0.94" fill="#3a2a28" opacity="0.5"/><circle cx="260.6" cy="250.5" r="0.66" fill="#3a2a28" opacity="0.5"/><circle cx="250.5" cy="244.3" r="0.56" fill="#3a2a28" opacity="0.5"/><circle cx="252.3" cy="250.6" r="0.83" fill="#3a2a28" opacity="0.5"/><circle cx="254.6" cy="245.6" r="0.92" fill="#3a2a28" opacity="0.5"/></g>
<path d="M186.5 278 C187 272 193 267 201 266 C207 265.5 213 267 217 266 C220.5 265 223 262.5 224.2 260.1 L224.8 261.5 C223 266 219 271 212 275 L213.5 279.7 C210 282.5 204 284.5 197 284.5 C190 284.3 186.5 281.5 186.5 278 Z" fill="#5a4a40"/><g clip-path="url(#fc10)"><ellipse cx="199" cy="276" rx="11" ry="7" fill="url(#fh10_0)"/><ellipse cx="212" cy="270" rx="6" ry="3" fill="url(#fh10_1)"/><circle cx="195.3" cy="275.5" r="0.78" fill="#3e2e26" opacity="0.45"/><circle cx="200.0" cy="277.0" r="0.74" fill="#3e2e26" opacity="0.45"/><circle cx="201.5" cy="270.4" r="0.56" fill="#3e2e26" opacity="0.45"/><circle cx="194.6" cy="280.3" r="0.51" fill="#3e2e26" opacity="0.45"/><circle cx="197.2" cy="274.2" r="0.78" fill="#3e2e26" opacity="0.45"/><circle cx="199.3" cy="281.5" r="0.97" fill="#3e2e26" opacity="0.45"/><circle cx="202.8" cy="270.4" r="0.94" fill="#3e2e26" opacity="0.45"/><circle cx="210.2" cy="274.9" r="0.90" fill="#3e2e26" opacity="0.45"/><circle cx="211.0" cy="283.2" r="0.61" fill="#3e2e26" opacity="0.45"/><circle cx="193.6" cy="280.6" r="0.64" fill="#3e2e26" opacity="0.45"/><circle cx="195.1" cy="267.8" r="0.88" fill="#3e2e26" opacity="0.45"/><circle cx="194.2" cy="269.9" r="0.81" fill="#3e2e26" opacity="0.45"/><circle cx="190.2" cy="280.3" r="0.54" fill="#3e2e26" opacity="0.45"/><circle cx="213.3" cy="269.2" r="0.57" fill="#3e2e26" opacity="0.45"/></g>
<path d="M471.1 289 C471.5 283.5 476 279.5 483 277.5 C490 275.5 497 274.5 503 272 C506 270.5 508.5 269.5 510.9 268.1 C509.5 271.5 507.5 274.5 505 277.5 C503.5 279.5 502.5 282 501.7 285.3 L498.5 286 C495 289.5 490 293 483 294 C476 294.5 471.5 292.5 471.1 289 Z" fill="#44343c"/><g clip-path="url(#fc11)"><ellipse cx="488" cy="282" rx="9" ry="5" fill="url(#fh11_0)"/><ellipse cx="482" cy="289.5" rx="9" ry="3.5" fill="url(#fh11_1)"/><ellipse cx="496" cy="279" rx="5" ry="2.5" fill="url(#fh11_2)"/></g>
<path d="M443.4 309.4 C444 304 450 300.5 458 300.5 C466 301 476 299.5 487.4 299 L486 302 C480 304 475 306.5 472 309 C473 310.5 474.5 312 475.8 312.9 C470 317 464 319.5 456 319 C448 318 443.4 314 443.4 309.4 Z" fill="#363448"/><g clip-path="url(#fc12)"><ellipse cx="454" cy="307" rx="10" ry="6" fill="url(#fh12_0)"/><ellipse cx="462" cy="316.5" rx="6" ry="2.2" fill="url(#fh12_1)"/></g>
<path d="M448.4 321.3 C450 325 454 328 460 330 C466 331.5 471 335 474 339 L477.4 341.6 L475 342.5 C471 340 466 337.5 460 337.5 L455 340 L455.5 345.5 C449 345.5 442 344 438 341.5 C436.5 338 437 334 440 330 C443 326 446 323 448.4 321.3 Z" fill="#6a604a"/><g clip-path="url(#fc13)"><ellipse cx="446" cy="335" rx="9" ry="8" fill="url(#fh13_0)"/><ellipse cx="462" cy="333" rx="7" ry="2.5" fill="url(#fh13_1)"/><circle cx="447.8" cy="325.6" r="0.64" fill="#4a3e2c" opacity="0.6"/><circle cx="445.8" cy="323.4" r="0.75" fill="#4a3e2c" opacity="0.6"/><circle cx="455.1" cy="332.0" r="0.92" fill="#4a3e2c" opacity="0.6"/><circle cx="455.3" cy="323.4" r="0.51" fill="#4a3e2c" opacity="0.6"/><circle cx="445.8" cy="343.2" r="0.73" fill="#4a3e2c" opacity="0.6"/><circle cx="452.4" cy="337.1" r="0.52" fill="#4a3e2c" opacity="0.6"/><circle cx="446.4" cy="336.5" r="0.58" fill="#4a3e2c" opacity="0.6"/><circle cx="440.4" cy="337.0" r="0.65" fill="#4a3e2c" opacity="0.6"/><circle cx="450.4" cy="328.8" r="0.54" fill="#4a3e2c" opacity="0.6"/><circle cx="444.7" cy="339.5" r="0.67" fill="#4a3e2c" opacity="0.6"/><circle cx="447.8" cy="339.3" r="0.64" fill="#4a3e2c" opacity="0.6"/><circle cx="453.6" cy="323.9" r="0.73" fill="#4a3e2c" opacity="0.6"/><circle cx="442.3" cy="326.6" r="0.95" fill="#4a3e2c" opacity="0.6"/><circle cx="441.0" cy="339.4" r="0.74" fill="#4a3e2c" opacity="0.6"/></g>
<path d="M548.9 323 C550.5 327 552 330 553.5 333.5 C556 334 559 335 562 336 C568 335.5 575 335 581 335 L580.5 337 C575 338.5 569 340 565 341.5 C563 343 561.5 345 561 346.5 C561 349.5 560.8 353 560.4 356 C558.5 353 557 350 555.5 347.5 C552.5 346.5 549.5 345.5 547 345 C542 347.5 536.5 350.5 531.3 352.6 L531 351.5 C535.5 348.5 540 345 544 342 C545.5 340 547.5 338 549 336 C548.5 332 548.5 327 548.9 323 Z" fill="#66624e"/><g clip-path="url(#fc14)"><ellipse cx="555" cy="340" rx="8" ry="6" fill="url(#fh14_0)"/><ellipse cx="550" cy="328" rx="2" ry="6" fill="url(#fh14_1)"/><ellipse cx="559" cy="349" rx="2" ry="4" fill="url(#fh14_2)"/></g>
<path d="M545.5 361.7 C548.5 362.5 552 363.5 555 364 C557.5 362 560 360.5 562 359.5 C564.5 357.5 567 355.5 569.4 353.3 C568 356.5 566.5 360 566 363 C566.5 365.5 567 368 567.5 370 C572 374 577 378.5 581.4 382.5 L580 383.2 C575 380.5 570 378 566 376.5 C564 377 562 377.5 560 378.5 C558 381.5 556 384.5 554 387.4 C554 383.5 554 380 554 376 C553.5 374 552.5 372 552 370 C549.5 367 547.5 364.5 545.5 361.7 Z" fill="#7a7078"/><g clip-path="url(#fc15)"><ellipse cx="559" cy="368.5" rx="7.5" ry="8.5" fill="url(#fh15_0)"/><ellipse cx="549" cy="363" rx="3" ry="2" fill="url(#fh15_1)"/></g>
<path d="M532.1 404.3 C533 399 540 396 550 395.8 L556.1 394.4 L558 396.5 C565 398 572 400.5 581.8 401.5 L580 405.5 C574 404.5 567 405 561 407 C556 410 551 412.5 543 412.5 C536 411.5 532.1 408 532.1 404.3 Z" fill="#52647a"/><g clip-path="url(#fc16)"><ellipse cx="542" cy="403" rx="11" ry="7" fill="url(#fh16_0)"/><ellipse cx="560" cy="402" rx="6" ry="3" fill="url(#fh16_1)"/></g>
<path d="M456.9 402.8 C456 405 456 408 457.5 410.5 C465 409.5 474 410 481 412 L488.8 409.1 C487.5 412 485 414 481 415 C474 416 467 418 463 421 C462.5 423 464 425 466.9 426.6 C461 428.5 454 427.5 450 424 C446.5 421 446 415 448.5 409.5 C450.5 406 453.5 403.8 456.9 402.8 Z" fill="#404048"/><g clip-path="url(#fc17)"><ellipse cx="453" cy="415" rx="6" ry="8" fill="url(#fh17_0)"/><ellipse cx="462" cy="419" rx="5" ry="4" fill="url(#fh17_1)"/></g>
<path d="M348.3 440.5 C349 435 356 432 366 432 C369 432.5 372 433.5 375.2 434.5 L370 437 C375 437.5 380 440 382 444 L382.7 447.7 C380 446.5 376 446 372 446.5 C369.5 447.5 369.5 449.5 371.3 451 C364 452 356 450.5 351.5 447 C349 445 348.3 442.5 348.3 440.5 Z" fill="#3e5446"/><g clip-path="url(#fc18)"><ellipse cx="365" cy="440" rx="5" ry="6.5" fill="url(#fh18_0)"/><ellipse cx="355" cy="441" rx="6" ry="5" fill="url(#fh18_1)"/></g></g>
</svg>
</body></html>
